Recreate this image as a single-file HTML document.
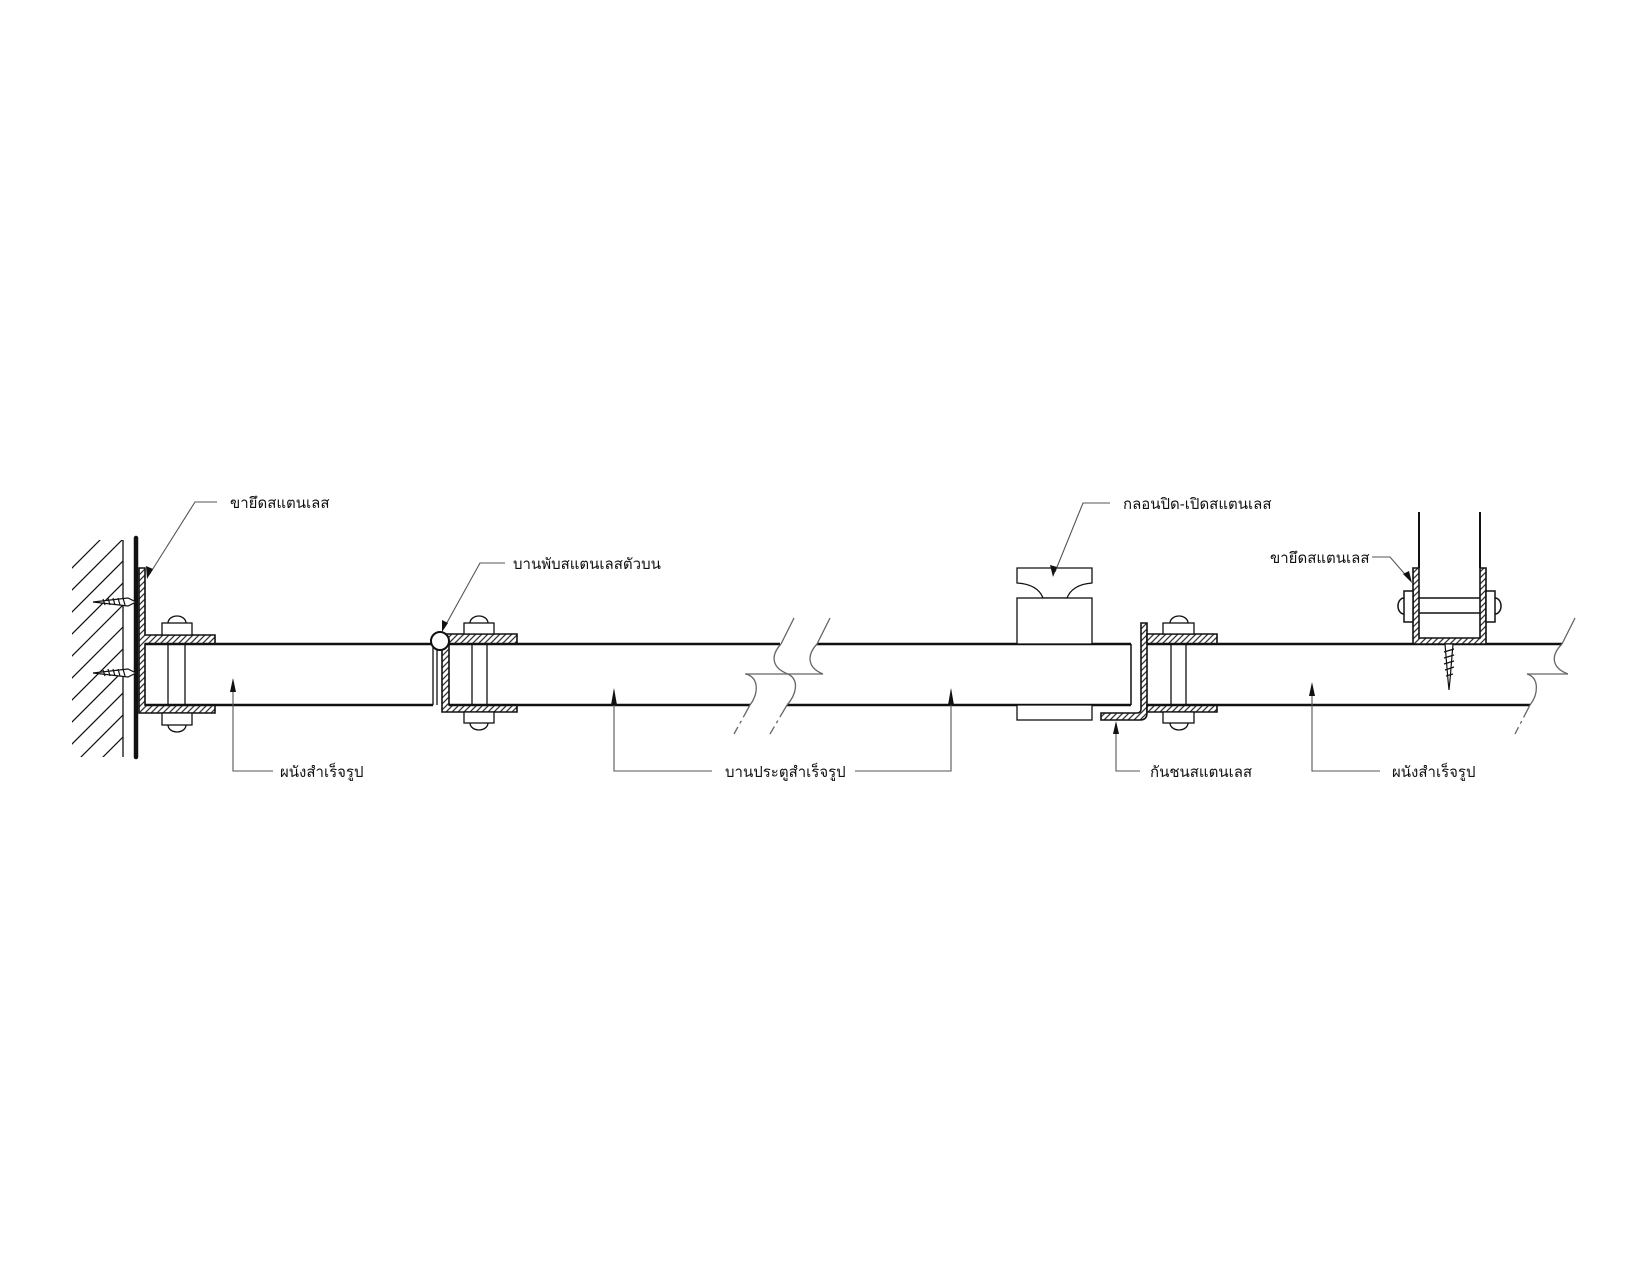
<!DOCTYPE html>
<html><head><meta charset="utf-8"><style>
html,body{margin:0;padding:0;background:#fff;}
svg{display:block;}
text{font-family:"Liberation Sans","Noto Sans CJK SC",sans-serif;font-size:15px;fill:#111;}
</style></head><body>
<svg width="1650" height="1275" viewBox="0 0 1650 1275" xmlns="http://www.w3.org/2000/svg">
<defs>
<pattern id="h" patternUnits="userSpaceOnUse" width="6" height="6">
<rect width="6" height="6" fill="#fff"/>
<path d="M-1,7 L7,-1 M-4,4 L4,-4 M2,10 L10,2" stroke="#333" stroke-width="1.3"/>
</pattern>
<clipPath id="wc"><rect x="72" y="540" width="51" height="217"/></clipPath>
</defs>
<g stroke="#111" fill="none">
<g clip-path="url(#wc)" stroke-width="1.2">
<path d="M60,580 L140,500 M60,602 L140,522 M60,624 L140,544 M60,646 L140,566 M60,668 L140,588 M60,690 L140,610 M60,712 L140,632 M60,734 L140,654 M60,756 L140,676 M60,778 L140,698 M60,800 L140,720 M60,822 L140,742 M60,844 L140,764"/>
</g>
<line x1="123" y1="540" x2="123" y2="757" stroke-width="1.3"/>
<line x1="136" y1="538" x2="136" y2="757" stroke-width="4.5" stroke-linecap="round"/>
<g stroke-width="1.2" fill="#fff">
<path d="M93,602 L128,598 L136,602 L128,606 Z"/>
<path d="M103,599 l2,6 M108,598 l2,7 M113,598 l2,7 M118,598 l2,7 M123,598 l2,7"/>
<path d="M93,673 L128,669 L136,673 L128,677 Z"/>
<path d="M103,670 l2,6 M108,669 l2,7 M113,669 l2,7 M118,669 l2,7 M123,669 l2,7"/>
</g>
<path d="M139,568 L145,568 L145,635 L215,635 L215,644 L145,644 L145,705 L215,705 L215,713 L139,713 Z" fill="url(#h)" stroke-width="1.6"/>
<g stroke-width="1.3" fill="#fff">
<path d="M168,623 A9,7 0 0 1 186,623"/>
<rect x="162" y="623" width="30" height="12"/>
<path d="M168,725 A9,7 0 0 0 186,725"/>
<rect x="162" y="713" width="30" height="12"/>
<line x1="168" y1="644" x2="168" y2="705"/><line x1="185" y1="644" x2="185" y2="705"/>
</g>
<g stroke-width="2.5">
<line x1="145" y1="644" x2="433" y2="644"/><line x1="145" y1="705" x2="433" y2="705"/>
</g>
<line x1="433" y1="644" x2="433" y2="705" stroke-width="1.3"/>
<line x1="437" y1="644" x2="437" y2="705" stroke-width="1.3"/>
<path d="M442,634 L517,634 L517,644 L449,644 L449,705 L517,705 L517,712 L442,712 Z" fill="url(#h)" stroke-width="1.6"/>
<g stroke-width="1.3" fill="#fff">
<path d="M470,623 A9,7 0 0 1 488,623"/>
<rect x="464" y="623" width="30" height="11"/>
<path d="M470,723 A9,7 0 0 0 488,723"/>
<rect x="464" y="712" width="30" height="11"/>
<line x1="472" y1="644" x2="472" y2="705"/><line x1="487" y1="644" x2="487" y2="705"/>
</g>
<circle cx="440" cy="641" r="9" fill="#fff" stroke-width="2"/>
<g stroke-width="2.5">
<line x1="449" y1="644" x2="780" y2="644"/><line x1="817" y1="644" x2="1131" y2="644"/>
<line x1="449" y1="705" x2="750" y2="705"/><line x1="787" y1="705" x2="1131" y2="705"/>
</g>
<line x1="1131" y1="644" x2="1131" y2="705" stroke-width="1.5"/>
<g stroke="#666" stroke-width="1.3">
<line x1="794" y1="618" x2="781" y2="644"/><line x1="830" y1="618" x2="817" y2="644"/>
<path d="M781,644 C770,656 772,668 788,674"/>
<path d="M817,644 C806,656 808,668 823,674"/>
<line x1="745" y1="674" x2="823" y2="674"/>
<path d="M746,674 C760,678 758,695 750,705"/>
<path d="M788,674 C800,680 796,695 787,705"/>
<path d="M750,705 L734,734" stroke-dasharray="14,4,3,4"/>
<path d="M787,705 L770,734" stroke-dasharray="14,4,3,4"/>
</g>
<g stroke-width="1.3" fill="#fff">
<path d="M1017,568 L1092,568 L1092,583 C1078,584 1070,590 1067,598 L1043,598 C1040,590 1032,584 1017,583 Z"/>
<rect x="1017" y="598" width="75" height="46"/>
<rect x="1017" y="705" width="75" height="15"/>
</g>
<path d="M1141,623 L1147,623 L1147,713 Q1147,720 1140,720 L1101,720 L1101,713 L1137,713 Q1141,713 1141,709 Z" fill="url(#h)" stroke-width="1.6"/>
<path d="M1147,634 L1217,634 L1217,644 L1147,644 Z" fill="url(#h)" stroke-width="1.6"/>
<path d="M1147,705 L1217,705 L1217,712 L1147,712 Z" fill="url(#h)" stroke-width="1.6"/>
<g stroke-width="1.3" fill="#fff">
<path d="M1170,623 A9,7 0 0 1 1188,623"/>
<rect x="1163" y="623" width="31" height="11"/>
<path d="M1170,723 A9,7 0 0 0 1188,723"/>
<rect x="1163" y="712" width="31" height="11"/>
<line x1="1171" y1="644" x2="1171" y2="705"/><line x1="1186" y1="644" x2="1186" y2="705"/>
</g>
<g stroke-width="2.5">
<line x1="1147" y1="644" x2="1562" y2="644"/><line x1="1147" y1="705" x2="1530" y2="705"/>
</g>
<g stroke="#666" stroke-width="1.3">
<line x1="1575" y1="618" x2="1562" y2="644"/>
<path d="M1562,644 C1550,656 1552,668 1568,674"/>
<line x1="1527" y1="674" x2="1568" y2="674"/>
<path d="M1527,674 C1540,678 1538,695 1530,705"/>
<path d="M1530,705 L1515,734" stroke-dasharray="14,4,3,4"/>
</g>
<line x1="1419" y1="512" x2="1419" y2="568" stroke-width="2"/>
<line x1="1480" y1="512" x2="1480" y2="568" stroke-width="2"/>
<path d="M1413,568 L1419,568 L1419,638 L1480,638 L1480,568 L1486,568 L1486,644 L1413,644 Z" fill="url(#h)" stroke-width="1.6"/>
<g stroke-width="1.5" fill="#fff">
<line x1="1419" y1="598" x2="1480" y2="598"/><line x1="1419" y1="613" x2="1480" y2="613"/>
<path d="M1404,598 A6,8 0 0 0 1404,614"/>
<rect x="1404" y="591" width="9" height="31"/>
<path d="M1495,598 A6,8 0 0 1 1495,614"/>
<rect x="1486" y="591" width="9" height="31"/>
</g>
<g stroke-width="1.2" fill="#fff">
<path d="M1445,644 L1453,644 L1450,680 L1449,690 L1448,680 Z"/>
<path d="M1444,652 l10,-3 M1444,658 l10,-3 M1444,664 l10,-3 M1445,670 l9,-3 M1446,676 l7,-2"/>
</g>
<g stroke="#555" stroke-width="1.1">
<polyline points="217,502 195,502 149,575"/>
<polyline points="505,563 480,563 444,628"/>
<polyline points="1110,503 1083,503 1055,572"/>
<polyline points="1372,557 1390,557 1410,580"/>
<polyline points="273,771 233,771 233,688"/>
<polyline points="712,771 614,771 614,690"/>
<polyline points="855,771 951,771 951,690"/>
<polyline points="1140,771 1116,771 1116,724"/>
<polyline points="1380,771 1312,771 1312,686"/>
</g>
</g>
<g fill="#111">
<path d="M147,579 L146,566 L153,569 Z"/>
<path d="M442,632 L442,620 L448,623 Z"/>
<path d="M1053,577 L1050,565 L1057,567 Z"/>
<path d="M1412,583 L1403,574 L1409,571 Z"/>
<path d="M233,678 L230,692 L236,692 Z"/>
<path d="M614,688 L611,705 L617,705 Z"/>
<path d="M951,688 L948,705 L954,705 Z"/>
<path d="M1116,721 L1113,734 L1119,734 Z"/>
<path d="M1312,682 L1309,696 L1315,696 Z"/>
</g>
<text x="230" y="508">ขายึดสแตนเลส</text>
<text x="513" y="569">บานพับสแตนเลสตัวบน</text>
<text x="1123" y="509">กลอนปิด-เปิดสแตนเลส</text>
<text x="1270" y="563">ขายึดสแตนเลส</text>
<text x="280" y="777">ผนังสำเร็จรูป</text>
<text x="725" y="777">บานประตูสำเร็จรูป</text>
<text x="1150" y="777">กันชนสแตนเลส</text>
<text x="1392" y="777">ผนังสำเร็จรูป</text>
</svg>
</body></html>
